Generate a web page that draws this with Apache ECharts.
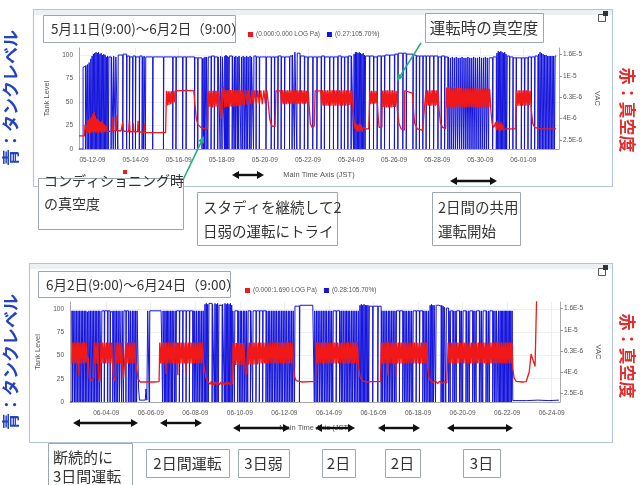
<!DOCTYPE html>
<html><head><meta charset="utf-8">
<script src="https://cdn.jsdelivr.net/npm/echarts@6/dist/echarts.min.js"></script>
<style>html,body{margin:0;padding:0;background:#fff}#c{width:644px;height:485px}</style>
</head><body><div id="c"></div>
<script>
// ---- data ----
const start1 = [2009, 5, 11, 9];   // 5月11日 9:00
const start2 = [2009, 6, 2, 9];    // 6月2日 9:00
const timeTicks1 = ["05-12-09","05-14-09","05-16-09","05-18-09","05-20-09","05-22-09","05-24-09","05-26-09","05-28-09","05-30-09","06-01-09"];
const timeTicks2 = ["06-04-09","06-06-09","06-08-09","06-10-09","06-12-09","06-14-09","06-16-09","06-18-09","06-20-09","06-22-09","06-24-09"];
const tankTicks = [0, 25, 50, 75, 100];
const vacTickLabels = ["2.5E-6","4E-6","6.3E-6","1E-5","1.6E-5"];
const vacTickValues = [2.5e-6, 4e-6, 6.3e-6, 1e-5, 1.6e-5];
const legendNames1 = ["(0.000:0.000 LOG Pa)", "(0.27:105.70%)"];
const legendNames2 = ["(0.000:1.690 LOG Pa)", "(0.28:105.70%)"];

// tank level [%] : [days from start, value]
const tank1 = [[0,0],[0.19,87],[0.25,88],[0.30,0],[0.32,89],[0.38,0],[0.40,90],[0.45,0],[0.47,92],
[0.52,0],[0.55,96],[0.58,0],[0.61,99],[0.64,0],[0.67,101],[0.70,0],[0.73,102],[0.76,0],[0.79,103],[0.82,0],[0.85,102],[0.88,0],[0.91,103],[0.94,0],[0.97,101],[1.00,0],[1.03,102],[1.06,0],[1.09,100],[1.12,0],[1.15,101],[1.18,0],[1.21,100],[1.24,0],[1.27,98],[1.30,0],[1.33,99],[1.36,0],[1.39,98],
[1.49,0],[1.51,98],[1.59,0],[1.61,99],[1.69,0],[1.71,98],[1.80,0],[1.82,100],[2.03,0],[2.05,101],[2.21,0],[2.23,99],[2.34,0],[2.36,98],[2.49,0],[2.51,99],[2.62,0],[2.64,98],[2.80,0],[2.82,99],[2.93,0],[2.95,98],[3.00,0],[3.02,99],[3.08,0],[3.10,98],[3.42,0],[3.44,98],[3.92,0],[3.94,98],[4.35,0],[4.37,98],[4.50,0],[4.52,98],[4.81,0],[4.83,98],[4.97,0],[4.99,98],[5.36,0],[5.38,97],[5.51,0],[5.53,97],[5.71,0],[5.73,96],[5.78,0],[5.80,97],[5.82,0],[5.85,98],[5.90,0],[5.92,98],[5.98,0],[6.00,98],[6.13,0],[6.15,99],[6.28,0],[6.30,98],[6.44,0],[6.46,98],[6.55,0],[6.57,99],[6.64,0],[6.66,98],
[6.75,0],[6.77,99],[6.80,0],[6.82,100],[6.85,0],[6.87,99],[6.90,0],[6.92,98],[6.96,0],[6.98,99],
[7.11,0],[7.13,99],[7.20,0],[7.22,98],[7.26,0],[7.28,99],[7.35,0],[7.37,98],[7.41,0],[7.43,99],[7.52,0],[7.54,98],[7.60,0],[7.62,99],[7.68,0],[7.70,98],[7.76,0],[7.78,99],[7.83,0],[7.85,98],[7.92,0],[7.94,99],[7.99,0],[8.01,98],[8.10,0],[8.12,99],[8.22,0],[8.24,98],[8.37,0],[8.39,98],[8.68,0],[8.70,98],[8.92,0],[8.94,98],[9.07,0],[9.09,98],[9.23,0],[9.25,99],[9.38,0],[9.40,98],[9.54,0],[9.56,98],[9.77,0],[9.79,99],[9.89,0],[9.91,100],[10.00,0],[10.02,103],[10.11,0],[10.13,102],[10.26,0],[10.28,99],[10.46,0],[10.48,98],[10.62,0],[10.64,98],[10.85,0],[10.87,98],[11.04,0],[11.06,98],[11.24,0],[11.26,99],[11.39,0],[11.41,98],[11.63,0],[11.65,98],[11.81,0],[11.83,98],[12.01,0],[12.03,99],[12.17,0],[12.19,98],[12.32,0],[12.34,98],[12.48,0],[12.50,99],[12.63,0],[12.65,99],
[12.74,0],[12.77,101],[12.80,0],[12.83,103],[12.86,0],[12.89,103],[12.92,0],[12.95,102],[12.98,0],[13.01,103],[13.04,0],[13.07,102],[13.10,0],[13.13,101],[13.16,0],[13.19,102],[13.22,0],[13.25,100],[13.28,0],[13.30,99],
[13.48,0],[13.50,99],[13.67,0],[13.69,98],[13.84,0],[13.86,99],[14.02,0],[14.04,99],[14.18,0],[14.20,100],[14.41,0],[14.43,100],[14.64,0],[14.66,101],[14.80,0],[14.82,102],[15.03,0],[15.05,102],[15.19,0],[15.21,101],[15.50,0],[15.52,100],[15.65,0],[15.67,99],[15.80,0],[15.82,99],[15.96,0],[15.98,99],[16.11,0],[16.13,99],[16.27,0],[16.29,99],[16.46,0],[16.48,99],[16.66,0],[16.68,98],[16.81,0],[16.83,99],[16.97,0],[16.99,98],
[17.12,0],[17.15,98],[17.21,0],[17.24,97],[17.30,0],[17.33,98],[17.39,0],[17.42,97],[17.48,0],[17.51,98],[17.57,0],[17.60,97],[17.66,0],[17.69,97],[17.75,0],[17.78,98],[17.84,0],[17.87,97],[17.93,0],[17.96,97],[18.02,0],[18.05,98],[18.11,0],[18.14,97],[18.20,0],[18.23,97],[18.29,0],[18.32,98],[18.38,0],[18.41,97],[18.47,0],[18.50,97],[18.56,0],[18.59,98],[18.65,0],[18.68,97],[18.74,0],[18.77,97],[18.83,0],[18.86,98],[18.92,0],[18.95,97],[19.01,0],[19.04,97],[19.20,0],[19.22,98],
[19.37,0],[19.40,102],[19.43,0],[19.46,104],[19.49,0],[19.52,103],[19.55,0],[19.58,104],[19.61,0],[19.64,103],[19.67,0],[19.70,102],[19.73,0],[19.76,103],[19.79,0],[19.82,101],[19.85,0],[19.88,99],
[19.98,0],[20.00,98],[20.14,0],[20.16,97],[20.29,0],[20.31,97],[20.53,0],[20.55,97],[20.68,0],[20.70,97],[20.84,0],[20.86,98],[20.99,0],[21.01,98],[21.15,0],[21.17,99],
[21.30,0],[21.33,101],[21.37,0],[21.40,103],[21.44,0],[21.47,102],[21.51,0],[21.54,101],[21.58,0],[21.61,100],[21.65,0],[21.68,100],[21.72,0],[21.75,99],[21.79,0],[21.82,99],[21.86,0],[21.89,99],[21.93,0],[21.96,99],[22.00,0],[22.03,99],[22.07,0],[22.10,99],[22.15,99]];

// vacuum [1e-6 Pa] : [days from start, value]
const vac1 = [[0,2.74],[0.25,2.74],[0.28,3.5],[0.33,3.65],[0.36,3.0],
[0.40,3.8],[0.43,2.9],[0.46,3.9],[0.49,3.0],[0.52,4.0],[0.55,2.9],[0.58,4.15],[0.61,3.0],[0.64,4.4],[0.67,2.9],[0.70,4.6],[0.73,3.0],[0.76,4.25],[0.79,2.9],[0.82,4.0],[0.85,3.0],[0.88,3.9],[0.91,2.9],[0.94,3.8],[0.97,3.0],[1.00,3.7],[1.03,2.9],[1.06,3.8],[1.09,3.0],[1.12,3.6],[1.15,2.9],[1.18,3.5],[1.21,3.0],[1.26,3.4],[1.31,3.0],
[1.40,3.1],[1.55,3.05],[1.57,4.15],[1.59,3.05],[1.70,3.1],[1.72,4.3],[1.74,3.1],[1.95,3.05],[2.03,3.7],[2.06,3.05],[2.30,3.0],[2.34,3.9],[2.37,3.0],[2.50,3.0],[2.52,3.6],[2.55,3.0],[2.72,3.0],[2.74,3.8],[2.77,3.0],[3.02,2.95],[3.04,3.6],[3.07,2.95],[4.02,2.95],
[4.06,7.28],[4.10,5.3],[4.14,7.2],[4.18,5.35],[4.22,7.2],[4.26,5.45],[4.30,7.2],[4.34,5.55],[4.38,7.2],[4.42,5.7],[4.46,7.28],[5.00,7.35],[5.33,7.28],
[5.38,5.45],[5.45,3.95],[5.52,3.5],[5.65,3.3],[5.85,3.2],[5.97,3.2],
[6.00,7.28],[6.04,5.15],[6.08,7.28],[6.12,5.15],[6.16,7.28],[6.20,5.07],[6.24,7.28],[6.28,5.15],[6.32,7.28],[6.36,5.15],[6.40,7.28],[6.44,5.2],[6.48,7.2],
[6.55,5.45],[6.62,3.95],[6.68,7.55],[6.72,7.95],[6.76,5.07],
[6.80,7.42],[6.84,5.13],[6.88,7.42],[6.92,5.13],[6.96,7.42],[7.00,5.2],[7.04,7.42],[7.08,5.15],[7.12,7.42],[7.16,5.2],[7.20,7.42],[7.24,5.15],[7.28,7.42],[7.32,5.2],[7.36,7.42],[7.40,5.28],[7.44,7.42],[7.48,5.28],[7.52,7.42],[7.56,5.35],[7.60,7.42],
[7.67,5.28],[7.74,7.42],[7.81,5.35],[7.88,7.35],[7.95,5.45],[8.02,7.35],[8.09,5.35],[8.16,7.35],[8.23,5.45],[8.30,7.35],[8.37,5.45],[8.44,7.35],[8.51,5.45],[8.58,7.35],[8.65,5.5],[8.72,7.35],
[8.78,5.75],[8.85,3.95],[8.95,3.4],[9.10,3.36],[9.14,7.28],[9.35,7.28],
[9.40,5.45],[9.44,7.35],[9.48,5.45],[9.52,7.35],[9.56,5.45],[9.60,7.35],[9.64,5.45],[9.68,7.35],[9.72,5.5],[9.76,7.35],[9.80,5.45],[9.84,7.35],[9.88,5.5],[9.92,7.35],[9.96,5.45],[10.00,7.35],[10.04,5.5],[10.08,7.35],[10.12,5.45],[10.16,7.35],[10.20,5.5],[10.24,7.35],[10.28,5.45],[10.32,7.35],[10.36,5.5],[10.40,7.35],[10.44,5.45],[10.48,7.35],[10.52,5.5],[10.56,7.28],[10.60,5.55],[10.64,7.28],
[10.70,4.7],[10.74,3.55],[10.82,3.3],[10.92,3.4],[10.96,7.28],[11.22,7.28],
[11.26,5.28],[11.30,7.35],[11.34,5.28],[11.38,7.35],[11.42,5.28],[11.46,7.35],[11.50,5.28],[11.54,7.35],[11.58,5.28],[11.62,7.35],[11.66,5.28],[11.70,7.35],[11.74,5.28],[11.78,7.35],[11.82,5.28],[11.86,7.35],[11.90,5.28],[11.94,7.35],[11.98,5.28],[12.02,7.35],[12.06,5.28],[12.10,7.35],[12.14,5.28],[12.18,7.35],[12.22,5.28],[12.26,7.35],[12.30,5.28],[12.34,7.35],[12.38,5.28],[12.42,7.35],[12.46,5.28],[12.50,7.35],[12.54,5.35],[12.58,7.35],[12.62,5.35],[12.66,7.28],
[12.72,4.7],[12.78,3.6],[12.82,3.2],[12.86,3.6],[12.90,3.0],[12.94,3.5],[12.98,3.0],[13.02,3.6],[13.06,3.1],[13.10,3.5],[13.14,3.0],[13.20,3.3],[13.30,3.2],[13.45,3.2],
[13.50,7.28],[13.54,5.45],[13.58,7.28],[13.62,5.5],[13.66,7.28],[13.70,5.5],[13.74,7.28],[13.78,5.55],[13.82,7.2],
[13.88,4.32],[13.93,3.3],[14.00,3.2],[14.06,3.3],[14.08,7.28],
[14.12,5.13],[14.16,7.35],[14.20,5.07],[14.24,7.35],[14.28,5.07],[14.32,7.35],[14.36,5.07],[14.40,7.35],[14.44,5.07],[14.48,7.35],[14.52,5.07],[14.56,7.35],[14.60,5.13],[14.64,7.28],[14.68,5.13],[14.72,7.28],
[14.78,4.7],[14.85,3.6],[14.95,3.2],[15.10,3.1],[15.12,7.28],[15.30,7.13],[15.48,6.9],
[15.53,4.7],[15.58,3.6],[15.70,3.2],[15.95,3.1],[16.02,3.2],
[16.10,7.28],[16.14,5.28],[16.18,7.35],[16.22,5.28],[16.26,7.35],[16.30,5.28],[16.34,7.35],[16.38,5.28],[16.42,7.35],[16.46,5.28],[16.50,7.35],[16.54,5.28],[16.58,7.35],[16.62,5.35],[16.66,7.28],
[16.72,4.7],[16.78,3.6],[16.88,3.3],[17.02,3.2],[17.06,7.83],
[17.10,5.07],[17.14,7.83],[17.18,5.07],[17.22,7.83],[17.26,5.07],[17.30,7.83],[17.34,5.07],[17.38,7.75],[17.42,5.07],[17.46,7.75],[17.50,5.07],[17.54,7.75],[17.58,5.07],[17.62,7.75],[17.66,5.07],[17.70,7.75],[17.74,5.07],[17.78,7.75],[17.82,5.07],[17.86,7.75],[17.90,5.07],[17.94,7.68],[17.98,5.07],[18.02,7.68],[18.06,5.07],[18.10,7.68],[18.14,5.07],[18.18,7.68],[18.22,5.07],[18.26,7.68],[18.30,5.07],[18.34,7.68],[18.38,5.07],[18.42,7.68],[18.46,5.07],[18.50,7.68],[18.54,5.07],[18.58,7.68],[18.62,5.07],[18.66,7.65],[18.70,5.07],[18.74,7.65],[18.78,5.07],[18.82,7.65],[18.86,5.07],[18.90,7.65],[18.94,5.13],[18.98,7.65],[19.02,5.13],[19.06,7.6],
[19.12,4.7],[19.18,3.55],[19.26,3.3],[19.34,3.7],[19.38,3.1],[19.42,3.8],[19.46,3.1],[19.50,3.6],[19.54,3.0],[19.58,3.7],[19.62,3.1],[19.66,3.5],[19.70,3.1],[19.80,3.2],[20.00,3.2],[20.26,3.2],
[20.30,7.28],[20.34,5.28],[20.38,7.35],[20.42,5.28],[20.46,7.35],[20.50,5.28],[20.54,7.35],[20.58,5.28],[20.62,7.35],[20.66,5.28],[20.70,7.35],[20.74,5.28],[20.78,7.35],[20.82,5.28],[20.86,7.35],[20.90,5.35],[20.94,7.28],
[21.00,4.7],[21.06,3.6],[21.15,3.3],[21.40,3.2],[21.80,3.2],[22.15,3.2]];

const tank2 = [[0,0],[0.09,98],
[0.12,0],[0.14,98],[0.20,0],[0.22,98],[0.27,0],[0.29,98],[0.34,0],[0.36,98],[0.41,0],[0.43,98],[0.48,0],[0.50,98],[0.55,0],[0.57,98],[0.62,0],[0.64,98],[0.69,0],[0.71,98],[0.76,0],[0.78,97],[0.83,0],[0.85,98],[0.90,0],[0.92,98],[0.97,0],[0.99,98],[1.04,0],[1.06,98],[1.11,0],[1.13,98],[1.18,0],[1.20,98],[1.25,0],[1.27,98],[1.32,0],[1.34,98],[1.41,0],[1.43,98],
[1.54,0],[1.56,98],[1.69,0],[1.71,98],[1.80,0],[1.82,97],
[1.92,0],[1.94,98],[2.00,0],[2.02,98],[2.07,0],[2.09,98],[2.14,0],[2.16,98],[2.22,0],[2.24,98],[2.32,0],[2.34,98],[2.40,0],[2.42,98],[2.51,0],[2.53,98],[2.62,0],[2.64,98],[2.70,0],[2.72,98],[2.78,0],[2.80,98],[2.85,0],[2.87,98],[2.92,0],[2.94,98],[2.99,0],[3.01,98],
[3.08,14],[3.12,2],[3.38,3],[3.41,14],[3.45,2],[3.49,98],
[3.56,0],[3.58,98],[4.09,97],
[4.16,0],[4.18,98],[4.24,0],[4.26,98],[4.30,0],[4.32,98],[4.36,0],[4.38,98],[4.42,0],[4.44,98],[4.49,0],[4.51,98],[4.56,0],[4.58,98],[4.61,0],[4.63,98],[4.70,0],[4.72,98],[4.76,0],[4.78,98],[4.91,0],[4.93,98],[5.06,0],[5.08,98],[5.21,0],[5.23,98],[5.36,0],[5.38,98],[5.51,0],[5.53,98],[5.58,0],[5.60,98],[5.66,0],[5.68,98],[5.74,0],[5.76,98],[5.81,0],[5.83,98],[5.89,0],[5.91,98],[5.96,0],[5.98,98],
[6.03,0],[6.06,105],[6.09,0],[6.12,106],[6.15,0],[6.18,105],[6.21,0],[6.24,106],
[6.38,0],[6.40,105],
[6.48,0],[6.51,106],[6.54,0],[6.57,105],[6.60,0],[6.63,106],[6.66,0],[6.69,104],
[6.83,0],[6.85,105],
[6.93,0],[6.96,106],[6.99,0],[7.02,105],[7.05,0],[7.08,106],[7.11,0],[7.14,105],[7.17,0],[7.20,106],[7.23,0],[7.26,104],[7.29,0],[7.31,98],
[7.38,0],[7.40,98],[7.53,0],[7.55,98],[7.62,0],[7.64,98],[7.68,0],[7.70,98],[7.76,0],[7.78,98],[7.83,0],[7.85,98],[7.91,0],[7.93,98],[7.98,0],[8.00,98],[8.10,0],[8.12,98],[8.20,0],[8.22,98],[8.35,0],[8.37,98],[8.50,0],[8.52,98],[8.65,0],[8.67,98],[8.80,0],[8.82,98],[8.88,0],[8.90,98],[8.95,0],[8.97,98],[9.03,0],[9.05,98],[9.10,0],[9.12,98],[9.18,0],[9.20,98],[9.25,0],[9.27,98],[9.33,0],[9.35,98],[9.40,0],[9.42,98],[9.48,0],[9.50,98],[9.55,0],[9.57,98],[9.63,0],[9.65,98],[9.70,0],[9.72,98],[9.78,0],[9.80,98],[9.85,0],[9.87,98],[9.93,0],[9.95,98],[10.00,0],[10.02,98],[10.08,0],[10.10,103],
[10.30,0],[10.32,104],[10.90,103],
[10.97,0],[10.99,98],[11.05,0],[11.07,98],[11.12,0],[11.14,98],[11.20,0],[11.22,98],
[11.28,0],[11.30,98],[11.35,0],[11.37,98],[11.43,0],[11.45,98],[11.50,0],[11.52,98],[11.58,0],[11.60,98],[11.65,0],[11.67,98],[11.73,0],[11.75,98],[11.80,0],[11.82,98],[11.95,0],[11.97,98],[12.10,0],[12.12,98],[12.18,0],[12.20,98],[12.25,0],[12.27,98],[12.33,0],[12.35,98],[12.40,0],[12.42,98],[12.47,0],[12.49,98],[12.54,0],[12.56,98],[12.62,0],[12.64,98],[12.69,0],[12.71,98],[12.77,0],[12.79,98],[12.84,0],[12.86,98],[12.92,0],[12.94,98],
[12.99,0],[13.02,104],[13.05,0],[13.08,105],[13.11,0],[13.14,104],[13.17,0],[13.20,105],[13.23,0],[13.26,104],[13.29,0],[13.32,104],[13.35,0],[13.38,104],[13.41,0],[13.44,103],
[13.59,0],[13.61,103],[13.82,0],[13.84,103],
[13.97,0],[13.99,98],[14.04,0],[14.06,98],[14.12,0],[14.14,98],[14.19,0],[14.21,98],[14.27,0],[14.29,98],[14.34,0],[14.36,98],[14.42,0],[14.44,98],[14.49,0],[14.51,98],[14.57,0],[14.59,98],[14.64,0],[14.66,98],[14.79,0],[14.81,98],[14.94,0],[14.96,98],[15.02,0],[15.04,98],[15.09,0],[15.11,98],[15.17,0],[15.19,98],[15.24,0],[15.26,98],[15.32,0],[15.34,98],[15.39,0],[15.41,98],[15.54,0],[15.56,98],[15.69,0],[15.71,98],[15.84,0],[15.86,98],[15.92,0],[15.94,98],[15.99,0],[16.01,98],[16.07,0],[16.09,98],
[16.14,0],[16.17,104],[16.20,0],[16.23,105],[16.26,0],[16.29,104],[16.32,0],[16.35,104],[16.41,0],[16.44,104],[16.55,103],[16.66,0],[16.69,104],[16.72,0],[16.75,103],[16.78,0],[16.81,102],[16.87,0],[16.90,101],
[17.00,0],[17.02,98],[17.07,0],[17.09,98],[17.19,0],[17.21,98],[17.27,0],[17.29,98],[17.34,0],[17.36,98],[17.49,0],[17.51,98],[17.56,0],[17.58,98],[17.63,0],[17.65,98],[17.78,0],[17.80,98],[17.86,0],[17.88,98],[17.93,0],[17.95,98],[18.08,0],[18.10,98],[18.16,0],[18.18,98],[18.23,0],[18.25,98],[18.38,0],[18.40,98],[18.46,0],[18.48,98],[18.53,0],[18.55,98],[18.68,0],[18.70,98],[18.76,0],[18.78,98],[18.83,0],[18.85,98],[18.98,0],[19.00,98],[19.06,0],[19.08,98],[19.13,0],[19.15,98],[19.22,0],[19.24,98],
[19.28,0],[19.31,98],[19.34,0],[19.37,98],[19.40,0],[19.43,98],[19.46,0],[19.49,98],[19.52,0],[19.55,98],[19.58,0],[19.61,98],[19.64,0],[19.67,98],[19.70,0],[19.73,98],[19.76,0],[19.79,98],[19.82,0],[19.85,98],
[19.88,1.5],[20.5,2],[21.0,1.5],[21.5,2],[21.95,1.5]];

const vac2 = [[0.09,4.8],[0.12,7.6],[0.16,4.8],[0.20,7.6],[0.24,4.8],[0.28,7.6],[0.32,4.8],[0.36,7.6],
[0.39,3.7],[0.41,7.6],
[0.45,4.8],[0.49,7.6],[0.53,4.8],[0.57,7.6],[0.61,4.8],[0.65,7.6],[0.69,4.9],[0.73,7.6],[0.77,4.8],
[0.82,5.5],[0.86,3.6],[0.92,3.25],[1.00,3.2],[1.06,3.5],[1.09,7.6],
[1.13,4.8],[1.17,7.6],[1.21,4.8],[1.25,7.6],
[1.28,3.5],[1.34,3.2],[1.39,7.6],
[1.43,4.8],[1.47,7.6],[1.51,4.8],[1.55,7.6],[1.59,4.8],[1.63,7.6],[1.67,4.8],[1.71,7.6],[1.75,4.8],[1.79,7.6],[1.83,4.8],[1.87,7.6],
[1.91,5.0],[1.95,3.5],[2.02,3.3],[2.07,7.6],
[2.11,4.8],[2.15,7.6],[2.19,4.8],[2.23,7.6],[2.27,4.8],[2.31,7.6],[2.35,4.8],
[2.40,3.4],[2.46,3.3],[2.51,7.6],
[2.55,4.8],[2.59,7.6],[2.63,4.8],[2.67,7.6],[2.71,4.8],[2.75,7.6],[2.79,4.8],[2.83,7.6],[2.87,4.8],[2.91,7.6],[2.95,4.9],
[3.01,4.0],[3.06,3.4],[3.15,3.2],[3.40,3.2],[3.80,3.2],[4.00,3.22],
[4.03,7.6],[4.07,4.8],[4.11,7.6],[4.15,4.8],[4.19,7.6],[4.23,4.8],[4.27,7.6],[4.31,3.8],[4.33,7.6],[4.37,4.8],[4.41,7.6],[4.45,4.8],[4.49,7.6],[4.53,4.8],[4.57,7.6],[4.61,4.8],[4.65,7.6],[4.69,4.8],[4.73,7.6],[4.77,4.8],[4.81,7.6],[4.84,3.7],[4.86,7.6],[4.90,4.8],[4.94,7.6],[4.98,4.8],[5.02,7.6],[5.06,4.8],[5.10,7.6],[5.14,4.8],[5.18,7.6],[5.21,3.9],[5.23,7.6],[5.27,4.8],[5.31,7.6],[5.35,4.8],[5.39,7.6],[5.43,4.8],[5.47,7.6],[5.51,4.8],[5.55,7.6],[5.59,4.8],[5.63,7.6],[5.67,4.8],[5.71,7.6],[5.75,4.8],[5.79,7.6],[5.83,4.8],[5.87,7.6],[5.91,4.8],[5.95,7.6],[5.99,4.9],
[6.04,4.2],[6.10,3.5],[6.20,3.2],
[6.30,3.05],[6.34,3.25],[6.38,3.0],[6.42,3.2],[6.46,3.0],[6.52,3.2],[6.58,3.0],[6.64,3.2],[6.70,3.0],[6.76,3.2],[6.82,3.0],[6.88,3.2],[6.94,3.0],[7.00,3.2],[7.06,3.0],[7.12,3.2],[7.18,3.0],[7.24,3.1],[7.29,3.1],
[7.32,7.5],[7.36,4.65],[7.40,7.5],[7.44,4.65],[7.48,7.5],[7.52,4.65],[7.56,7.5],[7.60,4.65],[7.64,7.5],[7.68,4.65],[7.72,7.5],[7.76,4.65],[7.80,7.5],
[7.88,3.7],[7.94,3.9],[7.98,7.5],
[8.02,4.7],[8.06,7.6],[8.10,4.7],[8.14,7.6],[8.18,4.7],[8.22,7.6],[8.26,4.7],[8.30,7.6],[8.34,4.7],[8.38,7.6],[8.42,4.7],[8.46,7.6],[8.50,4.8],[8.54,7.6],[8.58,4.8],[8.62,7.6],[8.66,4.8],[8.70,7.6],[8.74,4.8],[8.78,7.6],[8.82,4.8],[8.86,7.6],[8.90,4.8],[8.94,7.6],[8.98,4.8],[9.02,7.6],[9.06,4.8],[9.10,7.6],[9.14,4.8],[9.18,7.6],[9.22,4.8],[9.26,7.6],[9.30,4.8],[9.34,7.6],[9.38,4.8],[9.42,7.6],[9.46,4.8],[9.50,7.6],[9.54,4.8],[9.58,7.6],[9.62,4.8],[9.66,7.6],[9.70,4.8],[9.74,7.6],[9.78,4.8],[9.82,7.6],[9.86,4.8],[9.90,7.6],[9.94,4.8],[9.98,7.6],
[10.03,4.5],[10.08,3.6],[10.15,3.3],[10.40,3.2],[10.80,3.22],[11.02,3.22],
[11.06,7.6],[11.10,4.8],[11.14,7.6],[11.18,4.8],[11.22,7.6],[11.26,4.8],[11.30,7.6],[11.34,4.8],[11.38,7.6],[11.42,4.8],[11.46,7.6],[11.50,4.8],[11.54,7.6],[11.58,4.8],[11.62,7.6],[11.66,4.8],[11.70,7.6],[11.74,4.8],[11.78,7.6],[11.82,4.8],[11.86,7.6],[11.90,4.8],[11.94,7.6],[11.98,4.8],[12.02,7.6],[12.06,4.8],[12.10,7.6],[12.14,4.8],[12.18,7.6],[12.22,4.8],[12.26,7.6],[12.30,4.8],[12.34,7.6],[12.38,4.8],[12.42,7.6],[12.46,4.8],[12.50,7.6],[12.54,4.8],[12.58,7.6],[12.62,4.8],[12.66,7.6],[12.70,4.8],[12.74,7.6],[12.78,4.8],[12.82,7.6],[12.86,4.8],[12.90,7.6],
[12.96,4.4],[13.02,3.6],[13.10,3.3],[13.30,3.2],[13.60,3.22],[13.94,3.22],
[13.98,7.6],[14.02,4.8],[14.06,7.6],[14.10,4.8],[14.14,7.6],[14.18,4.8],[14.22,7.6],[14.27,3.7],[14.29,7.6],[14.33,4.8],[14.37,7.6],[14.41,4.8],[14.45,7.6],[14.49,4.8],[14.53,7.6],[14.57,4.8],[14.61,7.6],[14.64,3.6],[14.66,7.6],[14.70,4.8],[14.74,7.6],[14.78,4.8],[14.82,7.6],[14.86,4.8],[14.90,7.6],[14.94,4.8],[14.98,7.6],[15.02,4.8],[15.06,7.6],[15.10,4.8],[15.14,7.6],[15.18,4.8],[15.22,7.6],[15.26,4.8],[15.30,7.6],[15.34,4.8],[15.38,7.6],[15.42,4.8],[15.46,7.6],[15.50,4.8],[15.54,7.6],[15.58,4.8],[15.62,7.6],[15.66,4.8],[15.70,7.6],[15.74,4.8],[15.78,7.6],[15.82,4.8],[15.86,7.6],[15.90,4.8],[15.94,7.6],[15.98,4.8],[16.02,7.6],
[16.06,4.5],[16.12,3.5],[16.20,3.3],
[16.30,3.15],[16.40,3.3],[16.50,3.1],[16.60,3.25],[16.70,3.1],[16.80,3.2],[16.92,3.15],
[16.98,7.6],[17.02,4.8],[17.06,7.6],[17.10,4.8],[17.14,7.6],[17.18,4.8],[17.22,7.6],[17.26,4.8],[17.30,7.6],[17.34,4.8],[17.38,7.6],[17.42,4.8],[17.46,7.6],[17.50,4.8],[17.54,7.6],[17.58,4.8],[17.62,7.6],[17.66,4.8],[17.70,7.6],[17.74,4.8],[17.78,7.6],[17.82,4.8],[17.86,7.6],[17.90,4.8],[17.94,7.6],[17.98,4.8],[18.02,7.6],[18.06,4.8],[18.10,7.6],[18.14,4.8],[18.18,7.6],[18.22,4.8],[18.26,7.6],[18.30,4.8],[18.34,7.6],[18.38,4.8],[18.42,7.6],[18.46,4.8],[18.50,7.6],[18.54,4.8],[18.58,7.6],[18.62,4.8],[18.66,7.6],[18.70,4.8],[18.74,7.6],[18.78,4.8],[18.82,7.6],[18.86,4.8],[18.90,7.6],[18.94,4.8],[18.98,7.6],[19.02,4.8],[19.06,7.6],[19.10,4.8],[19.14,7.6],[19.18,4.8],[19.22,7.6],[19.26,4.8],[19.30,7.6],[19.34,4.8],[19.38,7.6],[19.42,4.8],[19.46,7.6],[19.50,4.8],[19.54,7.6],[19.58,4.8],[19.62,7.6],[19.66,4.8],[19.70,7.6],[19.74,4.8],[19.78,7.6],[19.82,4.8],[19.85,7.5],
[19.88,4.3],[19.94,3.5],[20.03,3.25],[20.30,3.2],[20.48,3.22],
[20.55,3.3],[20.62,4.0],[20.70,5.9],[20.88,4.5],[20.96,25]];

// ---- build ----
function dayOffset(label, s) {
  const p = label.split('-').map(Number);
  return (Date.UTC(2000 + p[2], p[0] - 1, p[1]) - Date.UTC(s[0], s[1] - 1, s[2], s[3])) / 864e5;
}
const tickPos1 = timeTicks1.map(t => dayOffset(t, start1));
const tickPos2 = timeTicks2.map(t => dayOffset(t, start2));
const vacPos = vacTickValues.map(v => Math.log10(v));
const toLog = arr => arr.map(p => [p[0], Math.log10(p[1] * 1e-6)]);

const LAT = '"Liberation Sans", "DejaVu Sans", sans-serif';
const JP = '"Noto Sans CJK JP", sans-serif';
const BLUE = '#1414dc', RED = '#f01818';

function xAxisCfg(gi, max, pos, labels) {
  return {
    type: 'value', gridIndex: gi, min: 0, max: max,
    name: 'Main Time Axis (JST)', nameLocation: 'middle', nameGap: 22,
    nameTextStyle: { fontSize: 7.5, color: '#555', fontFamily: LAT },
    axisLine: { lineStyle: { color: '#aaa' } },
    axisTick: { show: false, customValues: pos },
    splitLine: { show: true, lineStyle: { color: '#eeeeee' } },
    axisLabel: { customValues: pos, fontSize: 6.5, color: '#555', margin: 8, fontFamily: LAT,
      formatter: v => { let i = pos.findIndex(p => Math.abs(p - v) < 1e-6); return i >= 0 ? labels[i] : ''; } }
  };
}
function tankAxis(gi) {
  return {
    type: 'value', gridIndex: gi, min: 0, max: 107.5, position: 'left',
    name: 'Tank Level', nameLocation: 'middle', nameGap: 28,
    nameTextStyle: { fontSize: 7.5, color: '#555', fontFamily: LAT },
    axisLine: { show: true, lineStyle: { color: '#aaa' } },
    axisTick: { show: false, customValues: tankTicks },
    splitLine: { show: true, lineStyle: { color: '#f0f0f0' } },
    axisLabel: { customValues: tankTicks, fontSize: 6.5, color: '#555', margin: 6, fontFamily: LAT }
  };
}
function vacAxis(gi) {
  return {
    type: 'value', gridIndex: gi, min: -5.685, max: -4.735, position: 'right',
    name: 'VAC', nameLocation: 'middle', nameGap: 34, nameRotate: -90,
    nameTextStyle: { fontSize: 7.5, color: '#555', fontFamily: LAT },
    axisLine: { show: true, lineStyle: { color: '#aaa' } },
    axisTick: { show: true, length: 3, customValues: vacPos, lineStyle: { color: '#999' } },
    splitLine: { show: false },
    axisLabel: { customValues: vacPos, fontSize: 6.5, color: '#555', margin: 4, fontFamily: LAT,
      formatter: v => { let i = vacPos.findIndex(p => Math.abs(p - v) < 1e-6); return i >= 0 ? vacTickLabels[i] : ''; } }
  };
}
function legendCfg(names, left, top) {
  return { data: names, left: left, top: top, icon: 'rect', itemWidth: 5, itemHeight: 5, itemGap: 7,
    textStyle: { fontSize: 6.5, color: '#555', fontFamily: LAT, padding: [0, 0, 0, -2] }, selectedMode: false };
}

// graphic helpers (positions only)
function rectBox(x, y, w, h) {
  return { type: 'rect', z: 100, shape: { x: x + 0.5, y: y + 0.5, width: w, height: h },
    style: { fill: '#fff', stroke: '#9ea6ae', lineWidth: 1 } };
}
function label(x, y, text, size, align, lh) {
  return { type: 'text', z: 101, x: x, y: y,
    style: { text: text, fontSize: size, fontFamily: JP, fill: '#333', align: align || 'left',
      verticalAlign: 'middle', lineHeight: lh || size * 1.3 } };
}
function dblArrow(x1, x2, y) {
  const h = 7, w = 4;
  return [
    { type: 'line', z: 100, shape: { x1: x1 + h - 1, y1: y, x2: x2 - h + 1, y2: y }, style: { stroke: '#111', lineWidth: 2.4 } },
    { type: 'polygon', z: 100, shape: { points: [[x1, y], [x1 + h, y - w], [x1 + h, y + w]] }, style: { fill: '#111' } },
    { type: 'polygon', z: 100, shape: { points: [[x2, y], [x2 - h, y - w], [x2 - h, y + w]] }, style: { fill: '#111' } }
  ];
}
function greenArrow(x1, y1, x2, y2) {
  const a = Math.atan2(y2 - y1, x2 - x1), L = 7, W = 3.2;
  const bx = x2 - L * Math.cos(a), by = y2 - L * Math.sin(a);
  const px = -Math.sin(a) * W, py = Math.cos(a) * W;
  return [
    { type: 'line', z: 100, shape: { x1: x1, y1: y1, x2: bx, y2: by }, style: { stroke: '#27b07e', lineWidth: 1.6 } },
    { type: 'polygon', z: 100, shape: { points: [[x2, y2], [bx + px, by + py], [bx - px, by - py]] }, style: { fill: '#27b07e' } }
  ];
}
function vtext(x, y, text, color, rot) {
  return { type: 'text', z: 100, x: x, y: y, rotation: rot,
    style: { text: text, fontSize: 17, fontWeight: 'bold', fontFamily: JP, fill: color, align: 'center', verticalAlign: 'middle' } };
}
function frame(x, y, w, h) {
  return [
    { type: 'rect', z: -5, shape: { x: x + 0.5, y: y + 0.5, width: w, height: h }, style: { fill: '#fff', stroke: '#b7c5d9', lineWidth: 1.2 } },
    { type: 'rect', z: -4, shape: { x: x + 1, y: y + 1, width: w - 1, height: 5 }, style: { fill: '#eceff4' } },
    { type: 'rect', z: -3, shape: { x: x + w - 13.5, y: y + 5.5, width: 7, height: 7 }, style: { fill: '#fff', stroke: '#555', lineWidth: 1 } },
    { type: 'rect', z: -3, shape: { x: x + w - 9, y: y + 2, width: 5, height: 5 }, style: { fill: '#333' } }
  ];
}

const graphics = [].concat(
  frame(33, 9, 579, 177),
  frame(29, 263, 583, 179),
  [rectBox(43, 15, 192, 27), label(51, 29, '5月11日(9:00)〜6月2日（9:00）', 13.5)],
  [rectBox(38, 271, 192, 26), label(46, 284.5, '6月2日(9:00)〜6月24日（9:00）', 13.5)],
  [rectBox(425, 13, 118, 29), label(484, 28, '運転時の真空度', 15.5, 'center')],
  greenArrow(421, 43, 397, 81),
  greenArrow(183, 180, 204, 136),
  [{ type: 'rect', z: 100, shape: { x: 123, y: 170, width: 4, height: 4 }, style: { fill: RED } }],
  dblArrow(232, 264, 175),
  dblArrow(450, 497, 181),
  [rectBox(38, 178, 145, 51), label(44, 192, 'コンディショニング時\nの真空度', 14, 'left', 23)],
  [rectBox(197, 192, 140, 53), label(203, 219, 'スタディを継続して2\n日弱の運転にトライ', 14.5, 'left', 24)],
  [rectBox(432, 192, 88, 53), label(438, 219, '2日間の共用\n運転開始', 14.5, 'left', 24)],
  dblArrow(73, 138, 423),
  dblArrow(160, 202, 423),
  dblArrow(233, 290, 428),
  dblArrow(315, 355, 428),
  dblArrow(378, 420, 428),
  dblArrow(447, 513, 428),
  [rectBox(48, 443, 84, 50), label(53, 466.5, '断続的に\n3日間運転', 15, 'left', 19)],
  [rectBox(146, 449, 83, 28), label(187.5, 463, '2日間運転', 15, 'center')],
  [rectBox(238, 449, 51, 28), label(263.5, 463, '3日弱', 15, 'center')],
  [rectBox(322, 449, 33, 28), label(338.5, 463, '2日', 15, 'center')],
  [rectBox(385, 449, 35, 28), label(402.5, 463, '2日', 15, 'center')],
  [rectBox(463, 449, 37, 28), label(481.5, 463, '3日', 15, 'center')],
  [vtext(11, 98, '青：タンクレベル', '#2443c4', Math.PI / 2), vtext(11, 362, '青：タンクレベル', '#2443c4', Math.PI / 2)],
  [vtext(627, 110, '赤：真空度', '#e42a2a', -Math.PI / 2), vtext(627, 356, '赤：真空度', '#e42a2a', -Math.PI / 2)]
);

const chart = echarts.init(document.getElementById('c'), null, { renderer: 'canvas' });
chart.setOption({
  animation: false,
  backgroundColor: '#fff',
  grid: [
    { left: 79, top: 48, width: 480, height: 101 },
    { left: 70, top: 302, width: 490, height: 100 }
  ],
  legend: [legendCfg(legendNames1, 243, 26), legendCfg(legendNames2, 240, 282)],
  xAxis: [xAxisCfg(0, 22.28, tickPos1, timeTicks1), xAxisCfg(1, 22.0, tickPos2, timeTicks2)],
  yAxis: [tankAxis(0), vacAxis(0), tankAxis(1), vacAxis(1)],
  series: [
    { name: legendNames1[0], type: 'line', xAxisIndex: 0, yAxisIndex: 1, data: toLog(vac1), showSymbol: false, symbol: 'none', z: 4,
      lineStyle: { color: RED, width: 1.3 }, itemStyle: { color: RED } },
    { name: legendNames1[1], type: 'line', xAxisIndex: 0, yAxisIndex: 0, data: tank1, step: 'end', showSymbol: false, symbol: 'none', z: 3,
      lineStyle: { color: BLUE, width: 1 }, itemStyle: { color: BLUE } },
    { name: legendNames2[0], type: 'line', xAxisIndex: 1, yAxisIndex: 3, data: toLog(vac2), showSymbol: false, symbol: 'none', z: 4,
      lineStyle: { color: RED, width: 1.3 }, itemStyle: { color: RED } },
    { name: legendNames2[1], type: 'line', xAxisIndex: 1, yAxisIndex: 2, data: tank2, step: 'end', showSymbol: false, symbol: 'none', z: 3,
      lineStyle: { color: BLUE, width: 1 }, itemStyle: { color: BLUE } }
  ],
  graphic: { elements: graphics }
});
</script>
</body></html>
